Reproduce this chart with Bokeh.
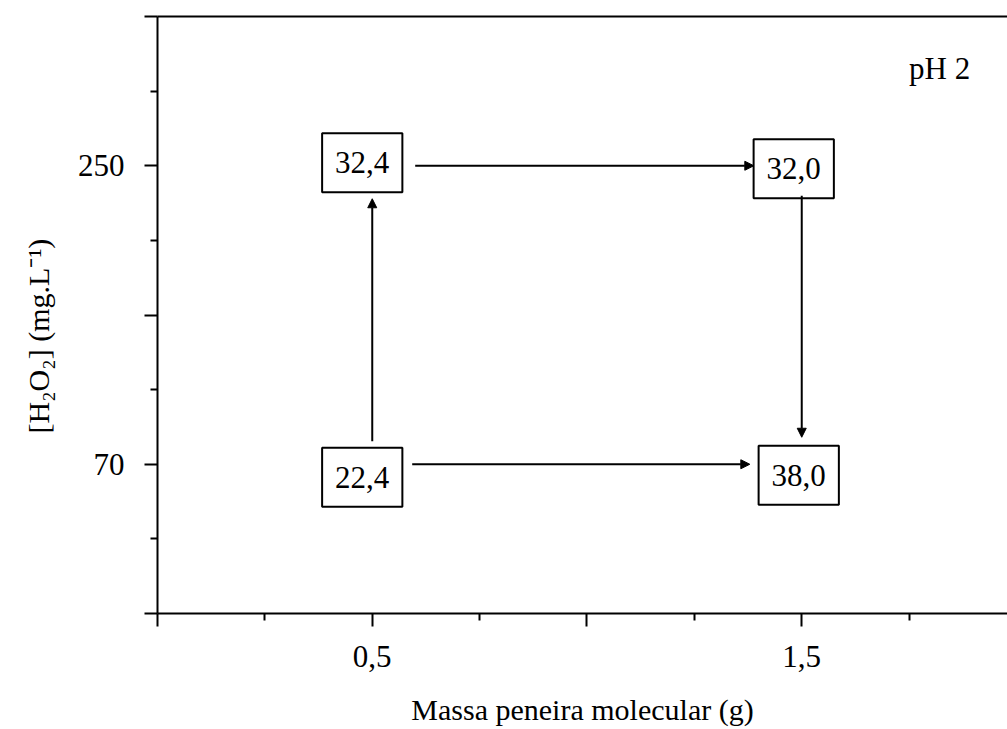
from bokeh.plotting import figure
from bokeh.models import (FixedTicker, Range1d, Arrow, NormalHead, Label, LinearAxis,
                          ColumnDataSource, Title)
from bokeh.core.properties import value
from bokeh.embed import file_html
from bokeh.resources import INLINE

# ---- data ----
x_mass = [0.5, 0.5, 1.5, 1.5]            # Massa peneira molecular (g)
y_h2o2 = [70, 250, 250, 70]               # [H2O2] (mg/L)
response = ["22,4", "32,4", "32,0", "38,0"]
arrow_from = [0, 1, 2, 0]
arrow_to = [1, 2, 3, 3]
x_ticks = [0.0, 0.5, 1.0, 1.5, 2.0]
x_minor = [0.25, 0.75, 1.25, 1.75]
x_tick_labels = {0.5: "0,5", 1.5: "1,5"}
y_ticks = [-20, 70, 160, 250, 340]
y_minor = [25, 115, 205, 295]
y_tick_labels = {70: "70", 250: "250"}
panel_title = "pH 2"
x_title = "Massa peneira molecular (g)"
y_title = "[H₂O₂] (mg.L⁻¹)"

# ---- layout / style ----
W, H = 1007, 729
LEFT, TOP, BOTTOM = 156, 16, 116
X0, X1 = 0.0, (W - LEFT) / 430.0
Y0, Y1 = -20, 340
FONT = value("Liberation Serif")
px_x = (W - LEFT) / (X1 - X0)
px_y = (H - TOP - BOTTOM) / (Y1 - Y0)

# label box offsets (screen px) and arrow gaps (px)
box_dx = [-10, -10, -8, -3]
box_dy = [13, -3, 3, 11]
gap_start = [23, 43, 30, 40]
gap_end = [33, 48, 27, 52]

p = figure(width=W, height=H, output_backend="svg", toolbar_location=None,
           x_range=Range1d(X0, X1), y_range=Range1d(Y0, Y1),
           min_border_left=LEFT, min_border_top=TOP, min_border_bottom=BOTTOM,
           min_border_right=0)
p.outline_line_color = None
p.grid.visible = False
p.background_fill_color = "white"

xa = p.xaxis[0]
ya = p.yaxis[0]

top_axis = LinearAxis(ticker=FixedTicker(ticks=[]), axis_line_width=2,
                      major_tick_line_color=None, minor_tick_line_color=None,
                      major_label_text_font_size="0px")
p.add_layout(top_axis, "above")

for ax in (xa, ya):
    ax.axis_line_width = 2
    ax.major_tick_line_width = 2
    ax.minor_tick_line_width = 2
    ax.major_tick_in = 0
    ax.major_tick_out = 13
    ax.minor_tick_in = 0
    ax.minor_tick_out = 7
    ax.major_label_text_font = "Liberation Serif"
    ax.major_label_text_font_size = "31px"
    ax.major_label_text_color = "black"

xa.ticker = FixedTicker(ticks=x_ticks, minor_ticks=x_minor)
xa.major_label_overrides = {t: x_tick_labels.get(t, "") for t in x_ticks}
xa.major_label_standoff = 19
xa.axis_label = x_title
xa.axis_label_text_font = "Liberation Serif"
xa.axis_label_text_font_size = "30px"
xa.axis_label_text_font_style = "normal"
xa.axis_label_text_color = "black"
xa.axis_label_standoff = 23

ya.ticker = FixedTicker(ticks=y_ticks, minor_ticks=y_minor)
ya.major_label_overrides = {t: y_tick_labels.get(t, "") for t in y_ticks}
ya.major_label_standoff = 20

p.add_layout(Title(text=y_title, align="left", offset=180, standoff=39,
                   text_font="Liberation Serif", text_font_size="30px",
                   text_font_style="normal", text_color="black"), "left")

# arrows
for a, b, g0, g1 in zip(arrow_from, arrow_to, gap_start, gap_end):
    xs_, ys_, xb, yb = x_mass[a], y_h2o2[a], x_mass[b], y_h2o2[b]
    if xs_ == xb:
        s = 1 if yb > ys_ else -1
        ys, ye = ys_ + s * g0 / px_y, yb - s * g1 / px_y
        xs = xe = xs_
    else:
        s = 1 if xb > xs_ else -1
        xs, xe = xs_ + s * g0 / px_x, xb - s * g1 / px_x
        ys = ye = ys_
    p.add_layout(Arrow(x_start=xs, y_start=ys, x_end=xe, y_end=ye,
                       line_width=2, line_color="black",
                       end=NormalHead(size=9, fill_color="black", line_color="black",
                                      line_width=1)))

src = ColumnDataSource(dict(x=x_mass, y=y_h2o2, t=response, dx=box_dx, dy=box_dy))
p.text(x="x", y="y", text="t", source=src, x_offset="dx", y_offset="dy",
       text_align="center", text_baseline="middle", text_font=FONT,
       text_font_size="31px", text_color="black",
       border_line_color="black", border_line_width=2,
       background_fill_color="white", padding=(13, 19))

p.add_layout(Label(x=1.821, y=308.5, text=panel_title, text_font="Liberation Serif",
                   text_font_size="31px", text_align="center", text_baseline="middle",
                   text_color="black"))

open("out.html", "w").write(file_html(p, INLINE))
